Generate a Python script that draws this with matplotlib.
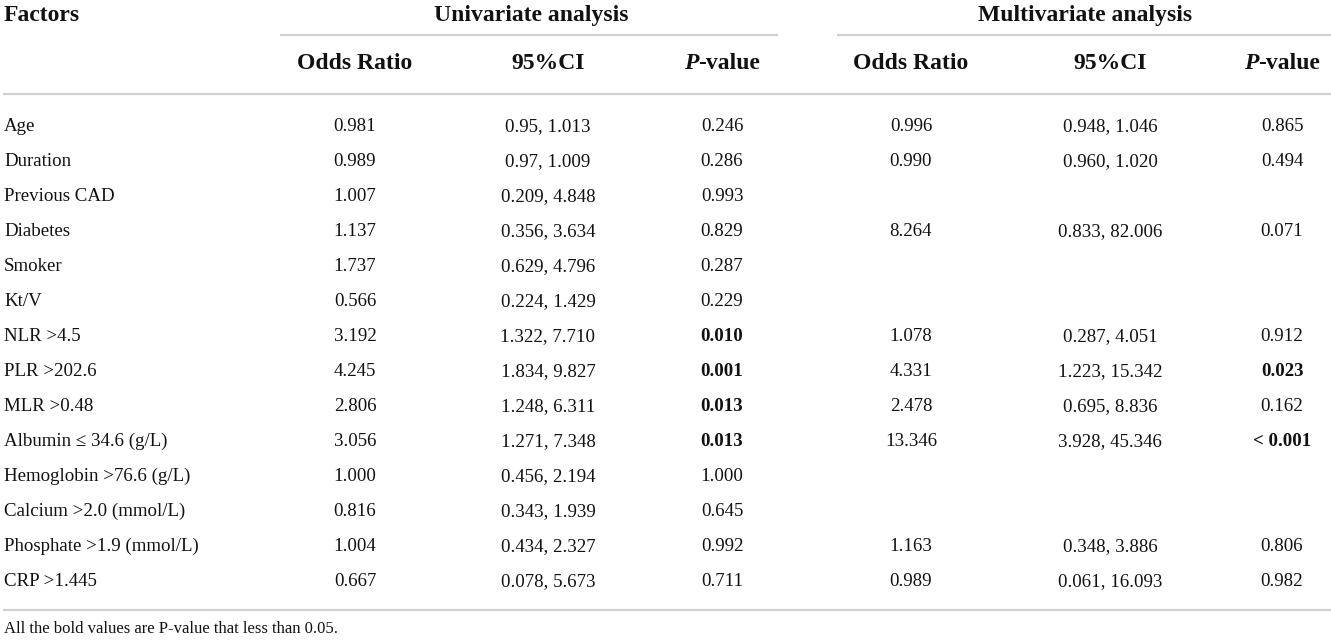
# %%
import matplotlib
matplotlib.use('Agg')
import matplotlib.pyplot as plt

plt.rcParams['font.family'] = ['Liberation Serif', 'DejaVu Serif']

# %%
factors = ['Age', 'Duration', 'Previous CAD', 'Diabetes', 'Smoker', 'Kt/V',
           'NLR >4.5', 'PLR >202.6', 'MLR >0.48', 'Albumin \u2264 34.6 (g/L)',
           'Hemoglobin >76.6 (g/L)', 'Calcium >2.0 (mmol/L)',
           'Phosphate >1.9 (mmol/L)', 'CRP >1.445']

uni_or = ['0.981', '0.989', '1.007', '1.137', '1.737', '0.566', '3.192',
          '4.245', '2.806', '3.056', '1.000', '0.816', '1.004', '0.667']
uni_ci = ['0.95, 1.013', '0.97, 1.009', '0.209, 4.848', '0.356, 3.634',
          '0.629, 4.796', '0.224, 1.429', '1.322, 7.710', '1.834, 9.827',
          '1.248, 6.311', '1.271, 7.348', '0.456, 2.194', '0.343, 1.939',
          '0.434, 2.327', '0.078, 5.673']
uni_p = ['0.246', '0.286', '0.993', '0.829', '0.287', '0.229', '0.010',
         '0.001', '0.013', '0.013', '1.000', '0.645', '0.992', '0.711']

multi_or = ['0.996', '0.990', '', '8.264', '', '', '1.078', '4.331', '2.478',
            '13.346', '', '', '1.163', '0.989']
multi_ci = ['0.948, 1.046', '0.960, 1.020', '', '0.833, 82.006', '', '',
            '0.287, 4.051', '1.223, 15.342', '0.695, 8.836', '3.928, 45.346',
            '', '', '0.348, 3.886', '0.061, 16.093']
multi_p = ['0.865', '0.494', '', '0.071', '', '', '0.912', '0.023', '0.162',
           '< 0.001', '', '', '0.806', '0.982']

footnote = 'All the bold values are P-value that less than 0.05.'

# %%
W, H = 1331, 640
fig = plt.figure(figsize=(W / 100, H / 100), dpi=100)
ax = fig.add_axes([0, 0, 1, 1])
ax.set_xlim(0, W)
ax.set_ylim(H, 0)
ax.axis('off')

ink = '#111111'
rule = '#cfcfcf'
hsize = 17
dsize = 13.6

# column centres
xs = [355, 548, 722, 911, 1110, 1282]

# baselines (px from top)
hb1, hb2 = 21, 69
y0, dy = 131, 35

# group headers and rules
ax.text(4, hb1, 'Factors', fontsize=hsize, fontweight='bold', color=ink, va='baseline')
ax.text(531, hb1, 'Univariate analysis', fontsize=hsize, fontweight='bold',
        color=ink, va='baseline', ha='center')
ax.text(1085, hb1, 'Multivariate analysis', fontsize=hsize, fontweight='bold',
        color=ink, va='baseline', ha='center')
ax.plot([280, 778], [35, 35], color=rule, lw=1.6, solid_capstyle='butt')
ax.plot([837, W], [35, 35], color=rule, lw=1.6, solid_capstyle='butt')

renderer = fig.canvas.get_renderer()


def pvalue_header(xc, y):
    t1 = ax.text(0, y, 'P', fontsize=hsize, fontweight='bold', fontstyle='italic',
                 color=ink, va='baseline', ha='left')
    t2 = ax.text(0, y, '-value', fontsize=hsize, fontweight='bold',
                 color=ink, va='baseline', ha='left')
    w1 = t1.get_window_extent(renderer).width
    w2 = t2.get_window_extent(renderer).width
    x0 = xc - (w1 + w2) / 2
    t1.set_x(x0)
    t2.set_x(x0 + w1)


for i, x in enumerate(xs):
    col = i % 3
    if col == 2:
        pvalue_header(x, hb2)
    else:
        label = 'Odds Ratio' if col == 0 else '95%CI'
        ax.text(x, hb2, label, fontsize=hsize, fontweight='bold', color=ink,
                va='baseline', ha='center')

ax.plot([3, W], [94, 94], color=rule, lw=1.6, solid_capstyle='butt')


def is_bold(p):
    if not p:
        return False
    return float(p.replace('<', '').strip()) < 0.05


# data rows
for r, name in enumerate(factors):
    y = y0 + r * dy
    ax.text(4, y, name, fontsize=dsize, color=ink, va='baseline', ha='left')
    row = [uni_or[r], uni_ci[r], uni_p[r], multi_or[r], multi_ci[r], multi_p[r]]
    for i, val in enumerate(row):
        bold = i % 3 == 2 and is_bold(val)
        ax.text(xs[i], y, val, fontsize=dsize, color=ink, va='baseline', ha='center',
                fontweight='bold' if bold else 'normal')

ax.plot([3, W], [610, 610], color=rule, lw=1.6, solid_capstyle='butt')
ax.text(4, 633, footnote, fontsize=12, color=ink, va='baseline', ha='left')

fig.savefig('out.png', dpi=100)
